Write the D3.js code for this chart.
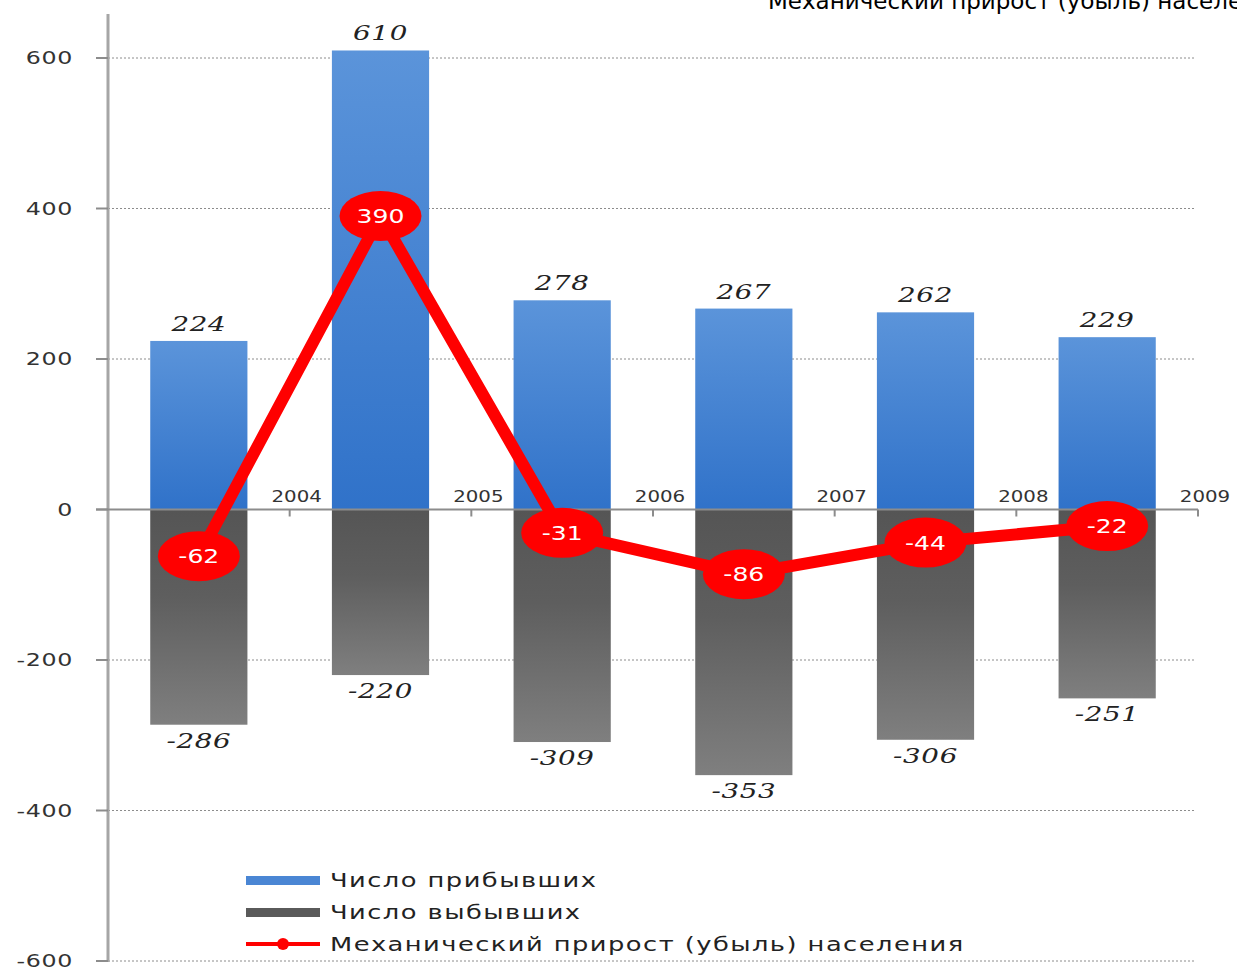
<!DOCTYPE html>
<html>
<head>
<meta charset="utf-8">
<script src="https://cdn.jsdelivr.net/npm/d3@7"></script>
<style>
  body { margin: 0; background: #fff; }
  svg { display: block; }
</style>
</head>
<body>
<div id="chart"></div>
<script>
// data
let years = ["2004", "2005", "2006", "2007", "2008", "2009"]
let arrived = [224, 610, 278, 267, 262, 229]
let departed = [-286, -220, -309, -353, -306, -251]
let netChange = [-62, 390, -31, -86, -44, -22]
let yTicks = [-600, -400, -200, 0, 200, 400, 600]
let legendLabels = ["Число прибывших", "Число выбывших", "Механический прирост (убыль) населения"]
let titleText = "Механический прирост (убыль) населения"

let width = 1237, height = 970
// the original picture is stretched sideways, so most text is too
let stretch = 1.32

let svg = d3.select("#chart").append("svg")
  .attr("width", width)
  .attr("height", height)

let defs = svg.append("defs")

let blueGrad = defs.append("linearGradient")
  .attr("id", "blueGrad").attr("x1", 0).attr("y1", 0).attr("x2", 0).attr("y2", 1)
blueGrad.append("stop").attr("offset", "0%").attr("stop-color", "#5b94da")
blueGrad.append("stop").attr("offset", "100%").attr("stop-color", "#3072c9")

let grayGrad = defs.append("linearGradient")
  .attr("id", "grayGrad").attr("x1", 0).attr("y1", 0).attr("x2", 0).attr("y2", 1)
grayGrad.append("stop").attr("offset", "0%").attr("stop-color", "#555555")
grayGrad.append("stop").attr("offset", "40%").attr("stop-color", "#5e5e5e")
grayGrad.append("stop").attr("offset", "100%").attr("stop-color", "#7f7f7f")

let x = d3.scaleBand()
  .domain(years)
  .range([108, 1198])
  .paddingInner(0.465)
  .paddingOuter(0.2325)

let y = d3.scaleLinear()
  .domain([-600, 600])
  .range([961, 58])

let cx = i => x(years[i]) + x.bandwidth() / 2
let boundary = d => x(d) + x.bandwidth() + x.step() * 0.2325

// put text at (px, py) and widen it
function placeStretched(sel, px, py) {
  sel.attr("x", 0).attr("y", 0)
     .attr("transform", (d, i) => "translate(" + px(d, i) + "," + py(d, i) + ") scale(" + stretch + ",1)")
}

// title, cut off at the top
svg.append("text")
  .attr("x", 768)
  .attr("y", 9)
  .style("font-family", "'DejaVu Sans', sans-serif")
  .style("font-size", "23px")
  .style("fill", "#000")
  .text(titleText)

// gridlines
svg.append("g").selectAll("line")
  .data(yTicks)
  .join("line")
  .attr("x1", 108).attr("x2", 1196)
  .attr("y1", d => y(d)).attr("y2", d => y(d))
  .style("stroke", "#8c8c8c")
  .style("stroke-width", 1)
  .style("stroke-dasharray", "2,2")

// bars
svg.append("g").selectAll("rect")
  .data(arrived)
  .join("rect")
  .attr("x", (d, i) => x(years[i]))
  .attr("width", x.bandwidth())
  .attr("y", d => y(d))
  .attr("height", d => y(0) - y(d))
  .style("fill", "url(#blueGrad)")

svg.append("g").selectAll("rect")
  .data(departed)
  .join("rect")
  .attr("x", (d, i) => x(years[i]))
  .attr("width", x.bandwidth())
  .attr("y", y(0))
  .attr("height", d => y(d) - y(0))
  .style("fill", "url(#grayGrad)")

// y axis
let yAxis = svg.append("g")
yAxis.append("line")
  .attr("x1", 108).attr("x2", 108)
  .attr("y1", 14).attr("y2", 962)
  .style("stroke", "#a6a6a6").style("stroke-width", 3)
yAxis.selectAll(".tick")
  .data(yTicks)
  .join("line")
  .attr("x1", 96).attr("x2", 108)
  .attr("y1", d => y(d)).attr("y2", d => y(d))
  .style("stroke", "#8c8c8c").style("stroke-width", 2)
yAxis.selectAll("text")
  .data(yTicks)
  .join("text")
  .attr("text-anchor", "end")
  .style("font-family", "'DejaVu Sans', sans-serif")
  .style("font-size", "18px")
  .style("letter-spacing", "0.5px")
  .style("fill", "#333")
  .text(d => d)
  .call(placeStretched, () => 73, d => y(d) + 6)

// x axis at zero
let xAxis = svg.append("g")
xAxis.append("line")
  .attr("x1", 96).attr("x2", 1198)
  .attr("y1", y(0)).attr("y2", y(0))
  .style("stroke", "#8c8c8c").style("stroke-width", 2)
xAxis.selectAll(".tick")
  .data(years)
  .join("line")
  .attr("x1", boundary)
  .attr("x2", boundary)
  .attr("y1", y(0)).attr("y2", y(0) + 7)
  .style("stroke", "#8c8c8c").style("stroke-width", 2)
xAxis.selectAll("text")
  .data(years)
  .join("text")
  .attr("text-anchor", "middle")
  .style("font-family", "'DejaVu Sans', sans-serif")
  .style("font-size", "15px")
  .style("fill", "#333")
  .text(d => d)
  .call(placeStretched, d => boundary(d) + 7, () => y(0) - 8)

// value labels on bars
svg.append("g").selectAll("text")
  .data(arrived)
  .join("text")
  .attr("text-anchor", "middle")
  .style("font-family", "'DejaVu Serif', serif")
  .style("font-style", "italic")
  .style("font-size", "21px")
  .style("letter-spacing", "0.5px")
  .style("fill", "#222")
  .text(d => d)
  .call(placeStretched, (d, i) => cx(i), d => y(d) - 10)

svg.append("g").selectAll("text")
  .data(departed)
  .join("text")
  .attr("text-anchor", "middle")
  .style("font-family", "'DejaVu Serif', serif")
  .style("font-style", "italic")
  .style("font-size", "21px")
  .style("letter-spacing", "0.5px")
  .style("fill", "#222")
  .text(d => d)
  .call(placeStretched, (d, i) => cx(i), d => y(d) + 23)

// net change line
let line = d3.line()
  .x((d, i) => cx(i))
  .y(d => y(d))

svg.append("path")
  .datum(netChange)
  .attr("d", line)
  .style("fill", "none")
  .style("stroke", "#ff0000")
  .style("stroke-width", 12)
  .style("stroke-linejoin", "round")

svg.append("g").selectAll("ellipse")
  .data(netChange)
  .join("ellipse")
  .attr("cx", (d, i) => cx(i))
  .attr("cy", d => y(d))
  .attr("rx", 41)
  .attr("ry", 25)
  .style("fill", "#ff0000")

svg.append("g").selectAll("text")
  .data(netChange)
  .join("text")
  .attr("text-anchor", "middle")
  .style("font-family", "'DejaVu Sans', sans-serif")
  .style("font-size", "19px")
  .style("fill", "#fff")
  .text(d => d)
  .call(placeStretched, (d, i) => cx(i), d => y(d) + 7)

// legend
let legend = svg.append("g")
let legendY = [880, 912, 944]
legend.append("rect").attr("x", 246).attr("y", legendY[0] - 4).attr("width", 74).attr("height", 9).style("fill", "#4a86d4")
legend.append("rect").attr("x", 246).attr("y", legendY[1] - 4).attr("width", 74).attr("height", 9).style("fill", "#5a5a5a")
legend.append("line").attr("x1", 246).attr("x2", 320).attr("y1", legendY[2]).attr("y2", legendY[2])
  .style("stroke", "#ff0000").style("stroke-width", 4)
legend.append("circle").attr("cx", 283).attr("cy", legendY[2]).attr("r", 6).style("fill", "#ff0000")
legend.selectAll("text")
  .data(legendLabels)
  .join("text")
  .style("font-family", "'DejaVu Sans', sans-serif")
  .style("font-size", "19.5px")
  .style("letter-spacing", "1.1px")
  .style("fill", "#222")
  .text(d => d)
  .call(placeStretched, () => 330, (d, i) => legendY[i] + 7)
</script>
</body>
</html>
